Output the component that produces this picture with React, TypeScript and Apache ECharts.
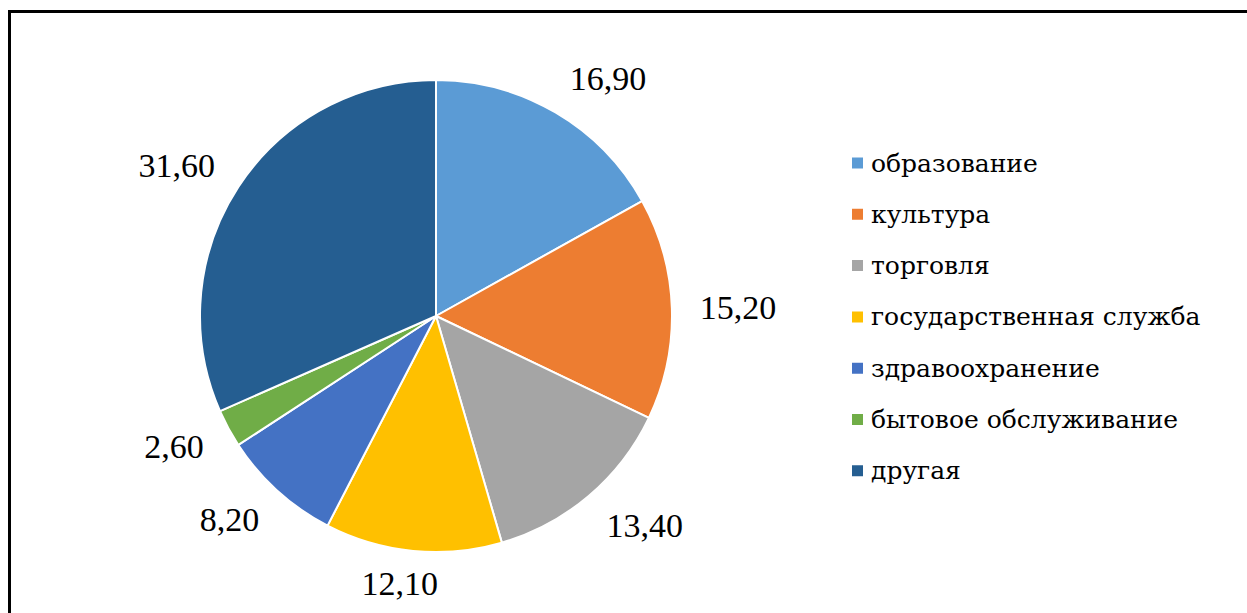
import React, { useEffect, useRef } from "react";
import * as echarts from "echarts";

const categories = [
  "образование",
  "культура",
  "торговля",
  "государственная служба",
  "здравоохранение",
  "бытовое обслуживание",
  "другая",
];
const values = [16.9, 15.2, 13.4, 12.1, 8.2, 2.6, 31.6];
const colors = ["#5B9BD5", "#ED7D31", "#A5A5A5", "#FFC000", "#4472C4", "#70AD47", "#255E91"];

const CX = 436;
const CY = 316;
const R = 236;
const LABEL_GAP = 28;
const FONT = "Times New Roman";
const LEGEND_FONT = "DejaVu Serif";

export default function App() {
  const ref = useRef<HTMLDivElement>(null);
  useEffect(() => {
    document.body.style.margin = "0";
    const chart = echarts.init(ref.current!, null, { renderer: "svg" });
    const total = values.reduce((a, b) => a + b, 0);
    const mids: number[] = [];
    let acc = 0;
    values.forEach((v) => {
      mids.push(((acc + v / 2) / total) * Math.PI * 2);
      acc += v;
    });
    const clamp = (v: number) => Math.max(-1, Math.min(1, v));
    const legendText = {
      fontFamily: LEGEND_FONT,
      fontSize: 25,
      lineHeight: 30,
      color: "#000",
      padding: [0, 0, 0, 2],
    };
    chart.setOption({
      animation: false,
      backgroundColor: "#ffffff",
      color: colors,
      textStyle: { fontFamily: FONT },
      graphic: [
        {
          type: "rect",
          shape: { x: 9.5, y: 11.5, width: 1260, height: 620 },
          style: { fill: "none", stroke: "#000", lineWidth: 3 },
          z: 10,
        },
      ],
      legend: {
        orient: "vertical",
        left: 850,
        top: 148,
        padding: 0,
        itemWidth: 13,
        itemHeight: 13,
        itemGap: 21.3,
        icon: "rect",
        selectedMode: false,
        textStyle: legendText,
      },
      series: [
        {
          type: "pie",
          center: [CX, CY],
          radius: R,
          startAngle: 90,
          clockwise: true,
          avoidLabelOverlap: false,
          itemStyle: { borderColor: "#fff", borderWidth: 2 },
          label: {
            show: true,
            position: "outside",
            formatter: (p: any) => p.value.toFixed(2).replace(".", ","),
            fontFamily: FONT,
            fontSize: 34,
            color: "#000",
          },
          labelLine: { show: false, length: 22, length2: 0 },
          labelLayout: (p: any) => {
            const t = mids[p.dataIndex];
            const ux = Math.sin(t);
            const uy = -Math.cos(t);
            const d = R + LABEL_GAP - 6 * Math.max(0, uy) ** 8;
            const w = p.labelRect.width;
            const ax = CX + ux * d;
            const ay = CY + uy * d;
            return {
              x: ax + (w / 2) * clamp(ux * 3),
              y: ay + 11 * uy,
              align: "center",
              verticalAlign: "middle",
            };
          },
          data: categories.map((name, i) => ({ name, value: values[i] })),
        },
      ],
    });
    return () => chart.dispose();
  }, []);
  return <div ref={ref} style={{ width: 1247, height: 613 }} />;
}
